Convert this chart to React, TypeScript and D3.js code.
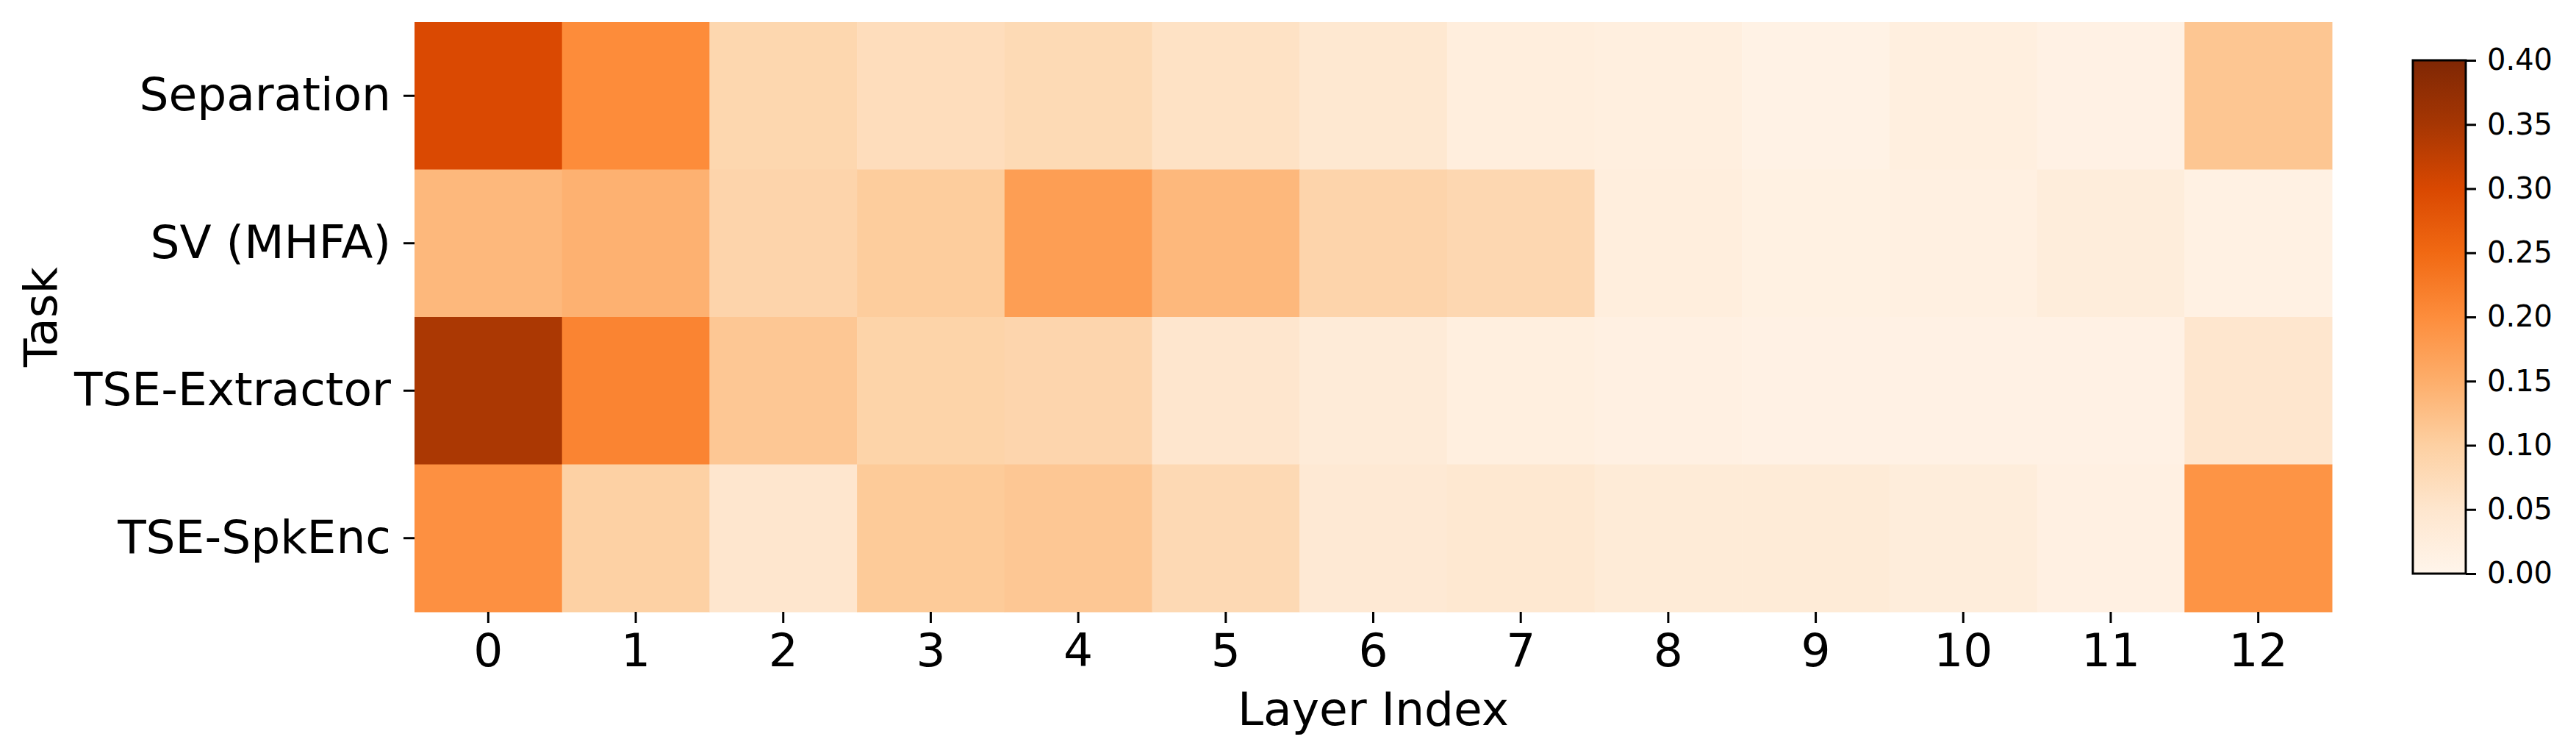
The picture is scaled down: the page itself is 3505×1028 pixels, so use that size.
import React, { useEffect, useRef } from "react";
import * as d3 from "d3";

const tasks = ["Separation", "SV (MHFA)", "TSE-Extractor", "TSE-SpkEnc"];
const layers = ["0", "1", "2", "3", "4", "5", "6", "7", "8", "9", "10", "11", "12"];

// weight per layer, one array per task
const separation = [0.298, 0.202, 0.085, 0.07, 0.078, 0.06, 0.045, 0.025, 0.02, 0.01, 0.02, 0.012, 0.115];
const svMhfa = [0.135, 0.145, 0.09, 0.105, 0.175, 0.135, 0.09, 0.083, 0.025, 0.015, 0.018, 0.028, 0.013];
const tseExtractor = [0.345, 0.212, 0.113, 0.092, 0.088, 0.05, 0.032, 0.02, 0.016, 0.012, 0.012, 0.012, 0.05];
const tseSpkEnc = [0.195, 0.098, 0.05, 0.108, 0.113, 0.08, 0.04, 0.045, 0.035, 0.035, 0.027, 0.016, 0.19];

const rows = [separation, svMhfa, tseExtractor, tseSpkEnc];
const cbarTicks = [0, 0.05, 0.1, 0.15, 0.2, 0.25, 0.3, 0.35, 0.4];

// matplotlib "Oranges" (ColorBrewer, linear segments)
const orangeStops = ["#fff5eb", "#fee6ce", "#fdd0a2", "#fdae6b", "#fd8d3c", "#f16913", "#d94801", "#a63603", "#7f2704"];

export default function App() {
  const ref = useRef(null);

  useEffect(() => {
    document.body.style.margin = "0";
    const width = 3505,
      height = 1028;
    const hm = { left: 564, right: 3173, top: 30, bottom: 832 };
    const cb = { left: 3283, right: 3355, top: 82, bottom: 780 };
    const font = "DejaVu Sans, sans-serif";
    const fs = 63;

    const svg = d3.select(ref.current);
    svg.selectAll("*").remove();
    svg.attr("width", width).attr("height", height).style("display", "block");

    const x = d3.scaleBand().domain(layers).range([hm.left, hm.right]);
    const y = d3.scaleBand().domain(tasks).range([hm.top, hm.bottom]);
    const color = d3
      .scaleLinear()
      .domain(orangeStops.map((_, i) => (i * 0.4) / 8))
      .range(orangeStops)
      .interpolate(d3.interpolateRgb)
      .clamp(true);

    const cells = rows.flatMap((vals, r) =>
      vals.map((v, c) => ({ task: tasks[r], layer: layers[c], v }))
    );

    svg
      .append("g")
      .selectAll("rect")
      .data(cells)
      .enter()
      .append("rect")
      .attr("x", (d) => x(d.layer))
      .attr("y", (d) => y(d.task))
      .attr("width", x.bandwidth() + 0.5)
      .attr("height", y.bandwidth() + 0.5)
      .attr("fill", (d) => color(d.v));

    // x axis
    const xAxis = svg
      .append("g")
      .attr("transform", `translate(0,${hm.bottom})`)
      .call(d3.axisBottom(x).tickSize(15).tickPadding(14));
    xAxis.select(".domain").remove();
    xAxis.selectAll(".tick line").attr("stroke-width", 3);
    xAxis.selectAll(".tick text").attr("font-family", font).attr("font-size", fs).attr("fill", "#000");

    // y axis
    const yAxis = svg
      .append("g")
      .attr("transform", `translate(${hm.left},0)`)
      .call(d3.axisLeft(y).tickSize(15).tickPadding(17));
    yAxis.select(".domain").remove();
    yAxis.selectAll(".tick line").attr("stroke-width", 3);
    yAxis.selectAll(".tick text").attr("font-family", font).attr("font-size", fs).attr("fill", "#000");

    svg
      .append("text")
      .attr("x", (hm.left + hm.right) / 2)
      .attr("y", 986)
      .attr("text-anchor", "middle")
      .attr("font-family", font)
      .attr("font-size", fs)
      .text("Layer Index");

    svg
      .append("text")
      .attr("transform", `translate(77,${(hm.top + hm.bottom) / 2}) rotate(-90)`)
      .attr("text-anchor", "middle")
      .attr("font-family", font)
      .attr("font-size", fs)
      .text("Task");

    // colorbar
    const grad = svg
      .append("defs")
      .append("linearGradient")
      .attr("id", "cbar")
      .attr("x1", 0)
      .attr("y1", 1)
      .attr("x2", 0)
      .attr("y2", 0);
    grad
      .selectAll("stop")
      .data(orangeStops)
      .enter()
      .append("stop")
      .attr("offset", (_, i) => i / 8)
      .attr("stop-color", (d) => d);

    svg
      .append("rect")
      .attr("x", cb.left)
      .attr("y", cb.top)
      .attr("width", cb.right - cb.left)
      .attr("height", cb.bottom - cb.top)
      .attr("fill", "url(#cbar)")
      .attr("stroke", "#000")
      .attr("stroke-width", 3);

    const cy = d3.scaleLinear().domain([0, 0.4]).range([cb.bottom, cb.top]);
    const cAxis = svg
      .append("g")
      .attr("transform", `translate(${cb.right},0)`)
      .call(
        d3
          .axisRight(cy)
          .tickValues(cbarTicks)
          .tickFormat(d3.format(".2f"))
          .tickSize(14)
          .tickPadding(15)
      );
    cAxis.select(".domain").remove();
    cAxis.selectAll(".tick line").attr("stroke-width", 3);
    cAxis.selectAll(".tick text").attr("font-family", font).attr("font-size", 40).attr("fill", "#000");
  }, []);

  return <svg ref={ref}></svg>;
}
